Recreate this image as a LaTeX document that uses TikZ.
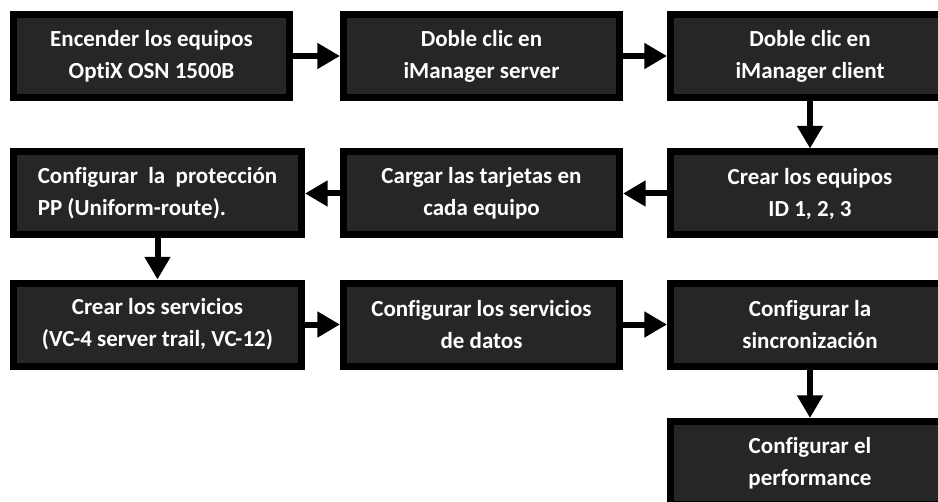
\documentclass[tikz,border=0pt]{standalone}
\usepackage{fontspec}
\setmainfont{Carlito}[Ligatures=NoCommon]
\usepackage{tikz}
\usetikzlibrary{arrows.meta}
\definecolor{boxFill}{RGB}{38,38,38}
\definecolor{boxLine}{RGB}{0,0,0}

\begin{document}
\begin{tikzpicture}[x=0.75pt,y=-0.75pt,
  stepbox/.style={draw=boxLine,fill=boxFill,line width=5.25pt,minimum height=62.25pt,
    text=white,align=center,font=\fontsize{17.25}{24}\selectfont\bfseries},
  narrowbox/.style={stepbox,minimum width=207pt},
  widebox/.style={stepbox,minimum width=216pt},
  edgebox/.style={stepbox,minimum width=209.25pt},
  flow/.style={line width=4.5pt,-{Triangle[length=17pt,width=18.5pt]}}]
  % frame
  \fill[white] (0,0) rectangle (938,502);
  \clip (0,0) rectangle (938,502);
  % row 1
  \node[narrowbox] (encender) at (151.5,56) {Encender los equipos\\OptiX OSN 1500B};
  \node[narrowbox] (server) at (481.5,56) {Doble clic en\\iManager server};
  \node[edgebox] (client) at (810,56) {Doble clic en\\iManager client};
  % row 2
  \node[edgebox] (equipos) at (810,193.5) {Crear los equipos\\ID 1, 2, 3};
  \node[narrowbox] (tarjetas) at (481.5,193.5) {Cargar las tarjetas en\\cada equipo};
  \node[widebox,align=left] (proteccion) at (157.5,193.5) {Configurar\ \ la\ \ protección\\PP (Uniform-route).};
  % row 3
  \node[widebox] (servicios) at (157.5,324.5) {Crear los servicios\\(VC-4 server trail, VC-12)};
  \node[narrowbox] (datos) at (481.5,324.5) {Configurar los servicios\\de datos};
  \node[edgebox] (sincro) at (810,324.5) {Configurar la\\sincronización};
  % row 4
  \node[edgebox] (perf) at (810,463) {Configurar el\\performance};
  % arrows
  \draw[flow] (encender) -- (server);
  \draw[flow] (server) -- (client);
  \draw[flow] (client) -- (equipos);
  \draw[flow] (equipos) -- (tarjetas);
  \draw[flow] (tarjetas) -- (proteccion);
  \draw[flow] (proteccion) -- (servicios);
  \draw[flow] (servicios) -- (datos);
  \draw[flow] (datos) -- (sincro);
  \draw[flow] (sincro) -- (perf);
\end{tikzpicture}
\end{document}
